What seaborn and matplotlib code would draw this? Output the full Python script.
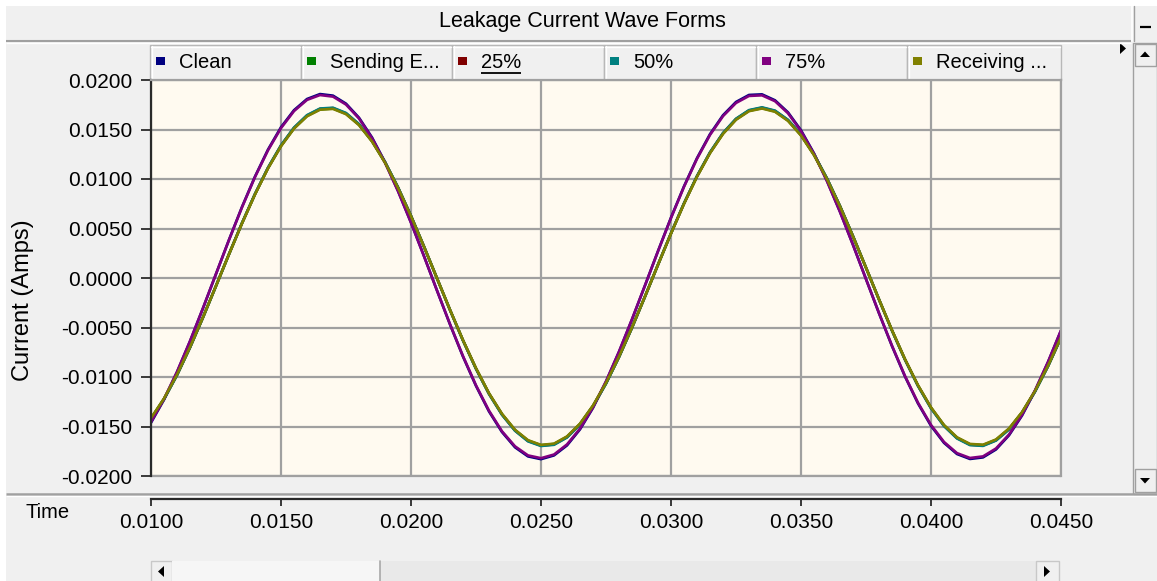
import numpy as np
import pandas as pd
import matplotlib
matplotlib.use("Agg")
import matplotlib.pyplot as plt
from matplotlib.patches import Rectangle, Polygon
import seaborn as sns

# Sample instants (ms) and leakage currents (mA) per measurement point
time_ms = np.linspace(10.0, 45.0, 71)

clean = [
    -14.62, -12.29, -9.52, -6.40, -3.05, 0.41, 3.86, 7.18, 10.25, 12.97,
    15.23, 16.95, 18.08, 18.58, 18.42, 17.61, 16.19, 14.20, 11.71, 8.81,
    5.61, 2.21, -1.27, -4.69, -7.94, -10.90, -13.48, -15.56, -17.10, -18.02,
    -18.30, -17.92, -16.91, -15.29, -13.12, -10.48, -7.47, -4.19, -0.75, 2.72,
    6.10, 9.26, 12.11, 14.53, 16.44, 17.78, 18.49, 18.55, 17.95, 16.73,
    14.92, 12.59, 9.82, 6.70, 3.35, -0.11, -3.56, -6.88, -9.95, -12.67,
    -14.93, -16.65, -17.78, -18.28, -18.12, -17.32, -15.89, -13.90, -11.41, -8.51,
    -5.31]

sending_end = [
    -14.19, -12.20, -9.78, -7.00, -3.97, -0.80, 2.40, 5.53, 8.46, 11.10,
    13.34, 15.12, 16.37, 17.04, 17.12, 16.59, 15.48, 13.82, 11.68, 9.12,
    6.25, 3.17, -0.03, -3.22, -6.29, -9.14, -11.66, -13.75, -15.36, -16.42,
    -16.89, -16.77, -16.04, -14.74, -12.91, -10.63, -7.96, -5.00, -1.87, 1.34,
    4.50, 7.51, 10.26, 12.64, 14.59, 16.02, 16.89, 17.16, 16.83, 15.91,
    14.43, 12.44, 10.02, 7.24, 4.21, 1.04, -2.16, -5.29, -8.22, -10.86,
    -13.10, -14.88, -16.13, -16.80, -16.88, -16.35, -15.24, -13.58, -11.44, -8.88,
    -6.01]

pct25 = [
    -14.22, -12.23, -9.80, -7.02, -3.98, -0.80, 2.41, 5.54, 8.48, 11.12,
    13.37, 15.16, 16.41, 17.08, 17.16, 16.63, 15.51, 13.85, 11.70, 9.15,
    6.27, 3.17, -0.03, -3.23, -6.31, -9.16, -11.69, -13.79, -15.40, -16.46,
    -16.93, -16.81, -16.08, -14.78, -12.94, -10.65, -7.98, -5.02, -1.87, 1.34,
    4.51, 7.53, 10.28, 12.67, 14.62, 16.06, 16.92, 17.20, 16.87, 15.95,
    14.46, 12.47, 10.04, 7.26, 4.22, 1.04, -2.17, -5.30, -8.24, -10.88,
    -13.13, -14.92, -16.17, -16.84, -16.92, -16.39, -15.27, -13.61, -11.46, -8.91,
    -6.03]

pct50 = [
    -14.25, -12.26, -9.82, -7.03, -3.99, -0.81, 2.41, 5.55, 8.50, 11.15,
    13.41, 15.20, 16.45, 17.12, 17.20, 16.67, 15.55, 13.88, 11.73, 9.17,
    6.28, 3.18, -0.03, -3.23, -6.32, -9.18, -11.72, -13.82, -15.43, -16.50,
    -16.97, -16.85, -16.11, -14.81, -12.97, -10.68, -8.00, -5.03, -1.88, 1.35,
    4.52, 7.55, 10.30, 12.70, 14.65, 16.09, 16.96, 17.24, 16.91, 15.98,
    14.49, 12.50, 10.06, 7.27, 4.23, 1.05, -2.17, -5.31, -8.26, -10.91,
    -13.17, -14.96, -16.21, -16.88, -16.96, -16.42, -15.31, -13.64, -11.49, -8.93,
    -6.04]

pct75 = [
    -14.54, -12.22, -9.47, -6.37, -3.04, 0.41, 3.84, 7.14, 10.20, 12.90,
    15.14, 16.86, 17.99, 18.48, 18.32, 17.52, 16.11, 14.12, 11.65, 8.77,
    5.58, 2.20, -1.26, -4.66, -7.89, -10.84, -13.40, -15.48, -17.00, -17.92,
    -18.20, -17.83, -16.81, -15.21, -13.05, -10.43, -7.43, -4.16, -0.75, 2.70,
    6.06, 9.21, 12.04, 14.45, 16.35, 17.68, 18.39, 18.45, 17.86, 16.64,
    14.84, 12.52, 9.77, 6.67, 3.34, -0.11, -3.54, -6.84, -9.90, -12.60,
    -14.84, -16.56, -17.69, -18.18, -18.02, -17.22, -15.81, -13.82, -11.35, -8.47,
    -5.28]

receiving_end = [
    -14.15, -12.17, -9.75, -6.98, -3.96, -0.80, 2.40, 5.51, 8.44, 11.07,
    13.31, 15.09, 16.33, 17.00, 17.08, 16.55, 15.44, 13.79, 11.65, 9.10,
    6.24, 3.16, -0.03, -3.21, -6.28, -9.11, -11.64, -13.72, -15.33, -16.38,
    -16.86, -16.73, -16.00, -14.71, -12.88, -10.60, -7.94, -4.99, -1.86, 1.34,
    4.49, 7.49, 10.23, 12.61, 14.55, 15.98, 16.85, 17.12, 16.79, 15.87,
    14.39, 12.41, 9.99, 7.22, 4.20, 1.04, -2.16, -5.27, -8.20, -10.83,
    -13.07, -14.85, -16.09, -16.76, -16.84, -16.31, -15.20, -13.55, -11.41, -8.86,
    -6.00]

series_names = ["Clean", "Sending End", "25%", "50%", "75%", "Receiving End"]
legend_labels = ["Clean", "Sending E...", "25%", "50%", "75%", "Receiving ..."]
series_colors = ["#000080", "#008000", "#800000", "#008080", "#800080", "#808000"]
series_values = [clean, sending_end, pct25, pct50, pct75, receiving_end]

x_ticks = [0.0100, 0.0150, 0.0200, 0.0250, 0.0300, 0.0350, 0.0400, 0.0450]
y_ticks = [-0.0200, -0.0150, -0.0100, -0.0050, 0.0000, 0.0050, 0.0100, 0.0150, 0.0200]

title_text = "Leakage Current Wave Forms"
y_label = "Current (Amps)"
x_label = "Time"

# long-form table in SI units
frames = []
for name, vals in zip(series_names, series_values):
    frames.append(pd.DataFrame({
        "time": np.asarray(time_ms) / 1000.0,
        "current": np.asarray(vals) / 1000.0,
        "series": name,
    }))
df = pd.concat(frames, ignore_index=True)

sns.set_style("white")
plt.rcParams["font.family"] = ["Liberation Sans", "DejaVu Sans"]

W, H = 1157, 581
fig = plt.figure(figsize=(W / 100, H / 100), dpi=100, facecolor="white")

# window chrome drawn in pixel coordinates
bg = fig.add_axes([0, 0, 1, 1], zorder=0)
bg.set_xlim(0, W)
bg.set_ylim(H, 0)
bg.axis("off")

PANEL = "#F0F0F0"
EDGE = "#A0A0A0"
DARK = "#2A2A2A"

bg.add_patch(Rectangle((6, 6), W - 6, H - 6, facecolor=PANEL, edgecolor="none"))
# title bar
bg.plot([6, 1131], [41, 41], color=EDGE, lw=1.5, solid_capstyle="butt")
bg.plot([6, 1131], [42.6, 42.6], color="white", lw=1.0, solid_capstyle="butt")
bg.plot([1132, 1132], [6, 41], color="white", lw=1.2)
bg.plot([1133.5, 1133.5], [6, 41], color=EDGE, lw=1.0)
bg.text(582, 22, title_text, fontsize=15.5, ha="center", va="center", color="black")
bg.plot([1140, 1151], [27, 27], color="black", lw=1.6, solid_capstyle="butt")

# legend tabs
box_edges = [150, 301, 452, 604, 756, 907, 1061]
for i, (lab, col) in enumerate(zip(legend_labels, series_colors)):
    left, right = box_edges[i], box_edges[i + 1]
    bg.add_patch(Rectangle((left, 45), right - left, 35, facecolor=PANEL,
                           edgecolor="#B8B8B8", lw=1.0))
    bg.plot([left + 1.5, left + 1.5], [46, 79], color="white", lw=1.0)
    bg.plot([left + 1, right - 1], [46.5, 46.5], color="white", lw=1.0)
    bg.add_patch(Rectangle((left + 5.5, 57), 9, 8, facecolor=col, edgecolor="none"))
    t = bg.text(left + 29, 62, lab, fontsize=14.5, ha="left", va="center", color="black")
    if lab == "25%":
        t_under = t

bg.add_patch(Polygon([(1120, 43), (1120, 54), (1126, 48.5)], closed=True,
                     facecolor="black", edgecolor="none"))

# vertical scroll bar
bg.add_patch(Rectangle((1133, 43), 24, 451, facecolor=PANEL, edgecolor=EDGE, lw=1.0))
bg.add_patch(Rectangle((1134.5, 44), 21, 22, facecolor=PANEL, edgecolor=EDGE, lw=1.0))
bg.add_patch(Rectangle((1134.5, 469), 21, 23, facecolor=PANEL, edgecolor=EDGE, lw=1.0))
bg.add_patch(Polygon([(1140, 57), (1150, 57), (1145, 51.5)], closed=True,
                     facecolor="black", edgecolor="none"))
bg.add_patch(Polygon([(1140, 478), (1150, 478), (1145, 483.5)], closed=True,
                     facecolor="black", edgecolor="none"))

# separator under the graph
bg.plot([6, 1157], [494, 494], color=EDGE, lw=1.8, solid_capstyle="butt")
bg.plot([6, 1157], [495.8, 495.8], color="white", lw=1.0, solid_capstyle="butt")

# horizontal scroll bar
bg.add_patch(Rectangle((151, 561), 908, 21, facecolor="#E9E9E9", edgecolor="none"))
bg.add_patch(Rectangle((151, 561), 21, 21, facecolor=PANEL, edgecolor="#C8C8C8", lw=1.0))
bg.add_patch(Rectangle((172, 561), 208, 21, facecolor="#F6F6F6", edgecolor="none"))
bg.plot([380, 380], [561, 581], color="#A8A8A8", lw=1.2)
bg.add_patch(Rectangle((1036, 561), 23, 21, facecolor=PANEL, edgecolor="#C8C8C8", lw=1.0))
bg.add_patch(Polygon([(164, 566), (164, 577), (158, 571.5)], closed=True,
                     facecolor="black", edgecolor="none"))
bg.add_patch(Polygon([(1044, 566), (1044, 577), (1050, 571.5)], closed=True,
                     facecolor="black", edgecolor="none"))

bg.text(23, 300, y_label, fontsize=17, rotation=90, ha="center", va="center", color="black")
bg.text(48, 513, x_label, fontsize=14.5, ha="center", va="center", color="black")

# plotting area
top_px, bot_px = 80.0, 476.0
ax = fig.add_axes([151 / W, 1 - bot_px / H, 910 / W, (bot_px - top_px) / H], zorder=2)
ax.set_facecolor("#FFFAF0")

sns.lineplot(data=df, x="time", y="current", hue="series", hue_order=series_names,
             palette=series_colors, estimator=None, sort=False, lw=1.9,
             legend=False, ax=ax)

ax.set_xlim(x_ticks[0], x_ticks[-1])
ax.set_ylim(y_ticks[0], y_ticks[-1])
ax.set_xticks(x_ticks)
ax.set_yticks(y_ticks)
ax.set_xticklabels([f"{v:.4f}" for v in x_ticks])
ax.set_yticklabels([f"{v:.4f}" for v in y_ticks])
ax.set_xlabel("")
ax.set_ylabel("")
ax.grid(True, color=EDGE, lw=1.6)
ax.set_axisbelow(True)
ax.axhline(y_ticks[0], color=EDGE, lw=1.6, clip_on=False, zorder=1)

for side in ("top", "right"):
    ax.spines[side].set_color(EDGE)
    ax.spines[side].set_linewidth(1.6)
ax.spines["left"].set_color(DARK)
ax.spines["left"].set_linewidth(1.6)
ax.spines["bottom"].set_color(DARK)
ax.spines["bottom"].set_linewidth(1.6)
ax.spines["bottom"].set_position(("outward", 16.5))

ax.tick_params(axis="x", bottom=True, direction="out", length=5, width=1.3,
               color=DARK, pad=5.5, labelsize=15, labelcolor="black")
ax.tick_params(axis="y", left=True, direction="out", length=7, width=1.3,
               color=DARK, pad=6.5, labelsize=15, labelcolor="black")

# underline the selected legend entry
fig.canvas.draw()
bb = t_under.get_window_extent()
bg.plot([bb.x0, bb.x1], [73, 73], color="black", lw=1.3, solid_capstyle="butt")

fig.savefig("out.png", dpi=100, facecolor=fig.get_facecolor())
